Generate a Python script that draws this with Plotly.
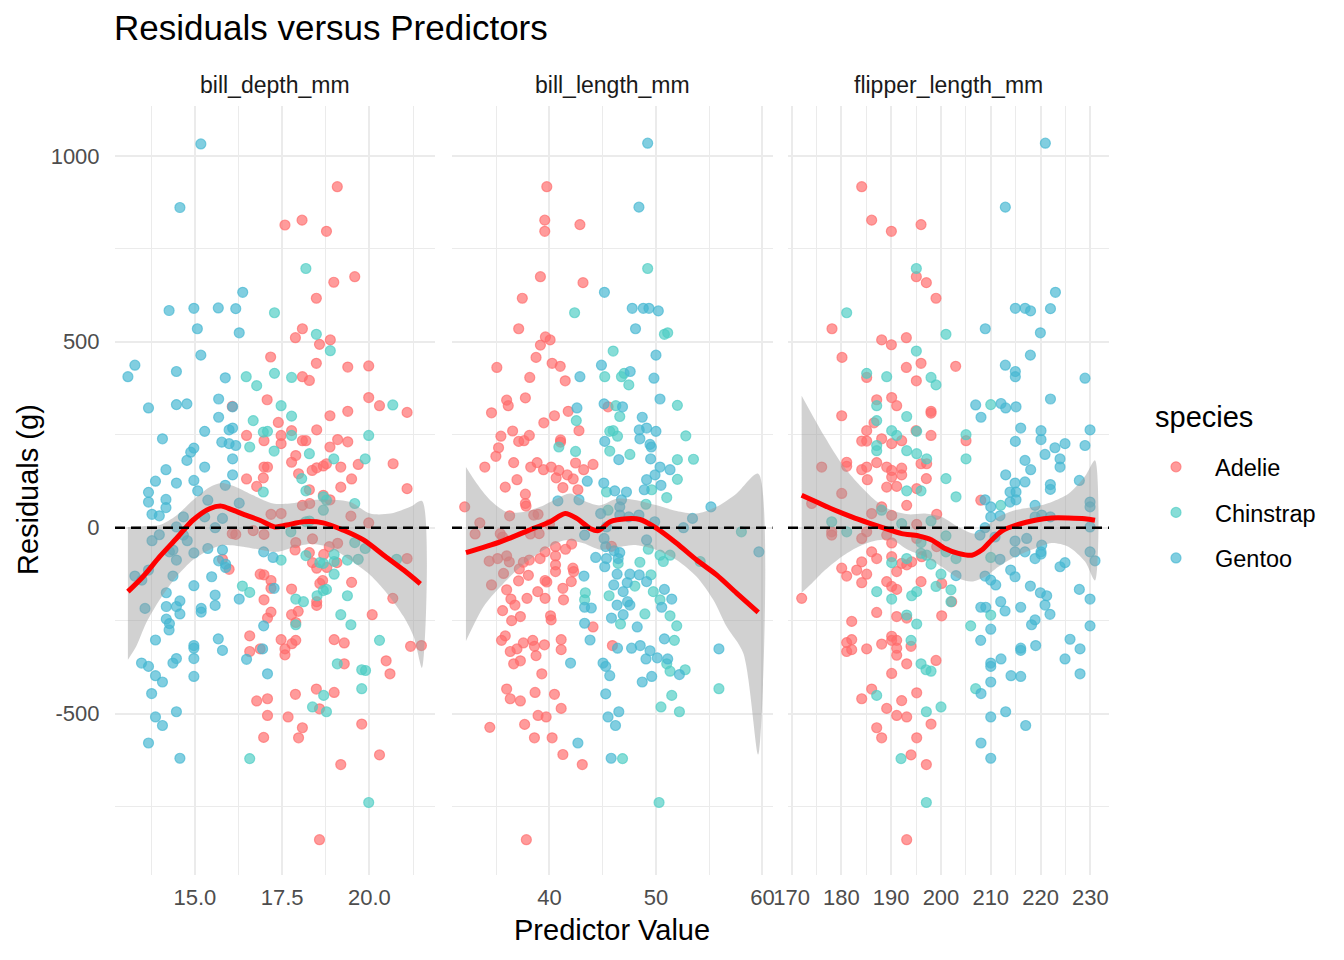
import plotly.graph_objects as go

# residuals (g) against each predictor, (x, residual) pairs
DEPTH_ADELIE = [
    (19.08, 917), (17.58, 814), (18.07, 827), (18.77, 797), (19.58, 675), (18.98, 660), (18.48, 617),
    (18.08, 535), (17.88, 511), (18.57, 493), (18.88, 505), (17.17, 459), (18.48, 442), (19.38, 432),
    (19.98, 435), (18.08, 406), (18.28, 396), (17.07, 344), (16.07, 326), (17.39, 283), (16.48, 248),
    (16.98, 234), (17.47, 248), (17.47, 226), (17.77, 261), (18.08, 234), (18.18, 234), (18.49, 263),
    (18.87, 301), (19.38, 313), (19.98, 350), (20.29, 328), (21.08, 310), (19.09, 237), (19.38, 231),
    (18.87, 217), (17.89, 194), (17.77, 176), (16.98, 163), (17.08, 163), (17.97, 145), (18.36, 154),
    (18.49, 161), (18.68, 166), (18.77, 172), (19.18, 163), (19.68, 170), (20.68, 172), (16.48, 131),
    (16.96, 134), (16.77, 111), (19.49, 131), (19.18, 109), (18.28, 102), (18.68, 87), (18.87, 75),
    (21.08, 105), (18.08, 60), (18.29, 65), (17.18, 36), (17.47, 38), (19.47, 31), (19.98, 13),
    (16.17, -18), (16.07, -16), (16.67, -8), (16.98, -18), (17.89, -40), (18.37, -30), (19.09, -42),
    (18.85, -51), (17.87, -60), (18.28, -67), (18.69, -72), (18.37, -94), (18.49, -109), (18.78, -107),
    (19.07, -94), (18.66, -142), (18.58, -150), (19.49, -147), (21.08, -83), (20.67, -190), (16.87, -125),
    (16.98, -127), (17.18, -142), (17.18, -163), (17.77, -165), (16.98, -194), (17.18, -227), (17.08, -243),
    (17.77, -234), (17.96, -225), (17.89, -255), (18.49, -199), (18.49, -209), (20.08, -234), (15.79, -85),
    (15.98, -112), (16.57, -291), (16.57, -333), (16.87, -326), (17.47, -301), (17.58, -326), (17.58, -342),
    (17.78, -312), (17.89, -303), (18.99, -301), (19.28, -310), (19.28, -366), (21.18, -319), (21.49, -317),
    (20.48, -358), (20.59, -393), (18.48, -434), (18.99, -443), (17.88, -448), (16.77, -466), (17.08, -460),
    (17.08, -505), (17.67, -509), (18.57, -487), (18.08, -538), (17.97, -565), (16.97, -564), (19.78, -528),
    (20.29, -611), (19.18, -637), (18.57, -839),
]
DEPTH_CHINSTRAP = [
    (18.18, 697), (17.28, 578), (18.48, 520), (18.88, 476), (16.47, 406), (17.28, 415), (17.77, 404),
    (16.77, 382), (17.47, 328), (17.77, 300), (16.67, 288), (16.96, 257), (17.08, 259), (17.77, 248),
    (17.27, 206), (16.57, 217), (18.28, 199), (18.98, 185), (19.88, 185), (19.98, 248), (20.67, 330),
    (18.06, 132), (16.96, 96), (18.18, 99), (18.68, 83), (18.77, 74), (19.58, 65), (18.68, 47),
    (18.28, 18), (17.75, -11), (18.18, 16), (19.58, -40), (19.88, -56), (18.99, -72), (18.18, -75),
    (18.58, -94), (18.68, -96), (18.99, -91), (18.99, -125), (18.68, -169), (18.77, -166), (19.37, -87),
    (19.68, -85), (20.78, -85), (16.36, -157), (16.57, -174), (17.89, -192), (18.11, -199), (19.37, -183),
    (19.18, -234), (19.47, -261), (17.89, -261), (17.47, -87), (18.50, -183), (20.29, -303), (19.08, -366),
    (19.78, -382), (19.89, -384), (19.78, -433), (18.69, -451), (18.37, -482), (18.77, -495), (16.57, -621),
    (19.98, -739),
]
DEPTH_GENTOO = [
    (15.17, 1032), (14.57, 861), (16.37, 633), (14.26, 584), (14.97, 590), (15.67, 591), (16.17, 589),
    (15.07, 535), (16.27, 524), (15.17, 464), (13.28, 437), (14.47, 420), (13.08, 406), (15.87, 403),
    (13.67, 322), (14.47, 331), (14.77, 333), (15.68, 346), (16.08, 325), (15.68, 297), (15.28, 259),
    (15.98, 263), (16.08, 268), (14.07, 239), (15.77, 230), (15.98, 226), (16.17, 221), (14.97, 214),
    (14.88, 203), (14.77, 181), (16.08, 185), (15.28, 163), (14.17, 156), (16.08, 142), (13.87, 125),
    (14.47, 120), (14.97, 127), (15.87, 114), (13.67, 95), (15.08, 99), (13.67, 69), (14.17, 76),
    (14.17, 54), (13.77, 36), (13.98, 32), (15.37, 74), (16.27, 66), (14.67, 29), (15.28, 29),
    (15.79, 25), (14.47, 2), (15.58, 0), (13.98, -19), (13.77, -35), (14.67, -20), (14.78, -35),
    (14.27, -65), (14.37, -60), (14.47, -87), (14.97, -68), (15.37, -56), (15.79, -60), (15.68, -89),
    (15.88, -98), (15.88, -107), (13.67, -114), (13.48, -141), (13.28, -130), (14.37, -130), (14.97, -156),
    (15.48, -132), (14.18, -175), (15.58, -181), (16.27, -192), (14.57, -197), (14.47, -212), (14.18, -212),
    (14.57, -232), (15.18, -217), (15.18, -227), (15.58, -209), (13.57, -217), (14.18, -246), (14.27, -258),
    (16.97, -65), (17.24, -80), (17.27, -163), (16.97, -264), (14.26, -275), (13.87, -302), (14.97, -317),
    (14.97, -324), (15.67, -299), (15.79, -330), (14.97, -352), (14.97, -400), (13.47, -364), (13.67, -373),
    (13.87, -398), (14.07, -415), (14.37, -364), (14.47, -352), (13.76, -446), (14.47, -495), (13.87, -509),
    (14.07, -532), (13.67, -579), (14.57, -620), (16.48, -354), (16.94, -326), (17.08, -393),
]

LENGTH_ADELIE = [
    (39.75, 917), (39.56, 827), (39.56, 797), (42.86, 815), (39.15, 675), (43.15, 659), (37.45, 617),
    (37.11, 535), (39.62, 513), (40.06, 505), (39.15, 491), (38.74, 458), (40.25, 442), (41.01, 434),
    (35.06, 431), (38.15, 404), (41.48, 395), (35.98, 343), (37.74, 349), (36.13, 328), (34.56, 309),
    (40.47, 301), (41.76, 313), (39.47, 282), (42.77, 261), (36.54, 260), (35.44, 246), (38.11, 248),
    (37.11, 232), (37.61, 234), (41.04, 236), (41.04, 230), (35.22, 215), (34.97, 192), (33.93, 163),
    (36.64, 175), (38.24, 163), (38.84, 175), (39.44, 156), (40.16, 163), (40.88, 154), (41.67, 142),
    (42.23, 131), (40.63, 134), (42.45, 174), (43.21, 156), (44.09, 170), (36.95, 129), (35.85, 109),
    (41.26, 108), (42.67, 102), (37.74, 90), (37.74, 65), (37.80, 58), (32.04, 56), (36.26, 32),
    (38.52, 34), (38.93, 36), (33.46, 13), (40.00, 9), (33.02, -17), (35.38, -16), (35.60, -25),
    (38.21, -17), (39.03, -16), (40.57, -51), (41.51, -58), (42.08, -44), (39.59, -65), (40.57, -76),
    (34.34, -90), (35.13, -83), (35.98, -76), (36.23, -92), (37.55, -93), (38.11, -87), (39.12, -83),
    (40.57, -100), (40.57, -118), (42.20, -109), (42.27, -118), (35.69, -123), (37.17, -111), (38.02, -128),
    (39.59, -142), (39.75, -146), (42.05, -145), (34.56, -154), (37.10, -143), (35.98, -167), (36.38, -192),
    (36.76, -208), (37.89, -190), (38.90, -172), (39.59, -190), (41.32, -194), (41.26, -163), (35.60, -223),
    (36.45, -250), (37.27, -239), (40.10, -237), (40.16, -248), (45.82, -50), (44.09, -267), (45.50, 325),
    (35.85, -291), (35.50, -303), (36.32, -333), (36.95, -326), (37.55, -310), (38.43, -303), (38.59, -319),
    (39.53, -315), (38.74, -344), (36.64, -366), (37.27, -358), (41.10, -301), (41.10, -328), (39.28, -393),
    (35.98, -434), (36.32, -460), (37.27, -466), (38.65, -443), (40.47, -448), (41.10, -486), (38.93, -505),
    (39.69, -509), (34.40, -537), (37.67, -529), (38.59, -565), (40.25, -565), (41.26, -610), (43.08, -637),
    (37.83, -839), (45.91, -317),
]
LENGTH_CHINSTRAP = [
    (49.22, 697), (42.36, 578), (50.79, 520), (51.10, 524), (45.98, 475), (45.19, 406), (46.76, 406),
    (47.01, 415), (47.45, 384), (42.52, 288), (46.23, 328), (46.60, 299), (45.66, 259), (45.98, 261),
    (46.39, 246), (40.88, 217), (42.45, 205), (45.66, 206), (47.55, 197), (52.01, 329), (52.80, 247),
    (52.01, 183), (53.52, 184), (52.01, 130), (45.35, 96), (49.60, 102), (51.01, 81), (49.06, 63),
    (45.50, 47), (58.02, -11), (49.28, -58), (50.38, -74), (50.69, -91), (51.32, -74), (48.49, -93),
    (46.45, -96), (49.53, -127), (54.15, -91), (48.02, -157), (45.60, -183), (49.75, -172), (50.38, -194),
    (48.96, -232), (51.32, -237), (43.37, -175), (43.30, -194), (46.67, -259), (51.95, -264), (51.73, -303),
    (51.01, -366), (51.32, -386), (52.74, -382), (51.48, -451), (50.47, -482), (52.20, -495), (46.86, -621),
    (55.91, -433), (50.29, -739),
]
LENGTH_GENTOO = [
    (49.22, 1034), (48.40, 862), (45.16, 633), (47.77, 590), (48.81, 590), (49.34, 590), (50.22, 583),
    (48.08, 535), (50.00, 464), (44.88, 437), (47.58, 420), (42.86, 406), (49.81, 402), (42.58, 322),
    (45.13, 333), (46.86, 325), (50.38, 346), (48.71, 297), (48.43, 263), (49.12, 268), (50.00, 259),
    (48.49, 239), (49.44, 224), (49.56, 217), (45.19, 232), (46.51, 183), (49.50, 185), (50.38, 163),
    (51.32, 156), (49.91, 142), (49.12, 129), (48.90, 102), (50.47, 114), (43.55, 125), (45.10, 120),
    (47.23, 96), (46.13, 99), (46.76, 75), (46.60, 56), (42.77, 75), (40.79, 72), (44.81, 38),
    (46.60, 34), (47.45, 29), (48.40, 34), (49.88, 16), (52.58, 0), (53.43, 25), (55.16, 56),
    (45.35, 2), (43.30, -20), (45.13, -29), (45.28, -51), (49.12, -33), (46.07, -62), (46.60, -67),
    (44.34, -80), (45.35, -83), (46.45, -83), (45.19, -105), (43.24, -130), (46.35, -125), (47.55, -125),
    (48.43, -127), (46.04, -154), (47.30, -148), (46.92, -172), (49.12, -145), (50.79, -166), (51.48, -192),
    (46.35, -208), (47.55, -208), (47.33, -199), (43.30, -214), (43.93, -216), (46.92, -234), (45.82, -243),
    (50.54, -214), (59.66, -65), (43.30, -257), (48.24, -267), (43.81, -302), (41.98, -364), (45.03, -364),
    (45.28, -373), (45.66, -398), (46.39, -324), (47.71, -324), (48.52, -317), (49.44, -331), (49.06, -353),
    (50.12, -350), (51.10, -353), (50.79, -299), (48.71, -415), (49.60, -400), (52.20, -395), (45.28, -447),
    (46.51, -495), (45.50, -509), (46.20, -532), (42.67, -579), (45.79, -620), (55.91, -326),
]

FLIPPER_ADELIE = [
    (184.07, 917), (186.07, 827), (190.03, 797), (195.99, 815), (195.05, 675), (197.06, 659), (199.00, 617),
    (178.10, 535), (188.08, 505), (190.03, 492), (193.04, 511), (180.11, 458), (193.04, 431), (195.99, 442),
    (202.95, 434), (185.07, 404), (195.05, 395), (187.08, 344), (190.09, 350), (191.10, 328), (198.00, 313),
    (198.00, 308), (180.05, 301), (185.07, 261), (186.54, 282), (184.07, 233), (185.07, 233), (188.08, 239),
    (190.09, 226), (192.10, 234), (194.98, 261), (198.00, 248), (205.03, 234), (181.05, 176), (181.05, 165),
    (184.07, 156), (185.07, 163), (187.08, 175), (189.09, 163), (190.09, 154), (192.10, 160), (190.09, 136),
    (192.10, 142), (195.99, 172), (197.12, 172), (197.06, 132), (185.20, 129), (189.09, 109), (191.10, 111),
    (195.12, 105), (176.03, 163), (180.05, 92), (174.02, 65), (193.11, 60), (208.00, 74), (188.08, 56),
    (186.07, 38), (190.09, 33), (199.14, 36), (178.04, -11), (178.04, -20), (185.07, -11), (189.09, -20),
    (190.09, -41), (184.07, -29), (195.12, 9), (195.12, -29), (186.07, -65), (187.08, -83), (184.07, -92),
    (190.09, -78), (192.10, -96), (194.11, -92), (196.12, -78), (180.05, -109), (181.05, -130), (183.06, -114),
    (185.07, -125), (184.07, -148), (191.10, -118), (193.11, -100), (189.09, -145), (190.09, -158), (191.10, -166),
    (195.99, -145), (200.14, -150), (172.01, -190), (182.06, -252), (187.08, -228), (191.10, -239), (193.11, -243),
    (200.14, -237), (202.15, -199), (199.14, -51), (181.05, -309), (182.06, -301), (181.05, -333), (182.06, -328),
    (185.07, -326), (188.08, -313), (190.09, -292), (190.09, -303), (191.10, -303), (191.10, -324), (191.10, -343),
    (193.98, -319), (193.11, -366), (199.00, -357), (190.09, -392), (186.07, -434), (184.07, -460), (189.09, -486),
    (191.10, -505), (192.10, -465), (193.11, -509), (195.12, -444), (198.00, -528), (187.08, -538), (188.08, -565),
    (195.12, -565), (193.98, -611), (197.06, -637), (193.11, -839),
]
FLIPPER_CHINSTRAP = [
    (195.05, 697), (181.05, 578), (201.00, 520), (195.05, 475), (185.07, 415), (189.09, 406), (198.00, 404),
    (199.00, 384), (187.08, 328), (187.08, 288), (193.11, 299), (190.09, 261), (191.10, 248), (195.12, 259),
    (205.03, 250), (187.08, 221), (187.08, 207), (193.11, 207), (195.12, 199), (197.12, 185), (205.03, 185),
    (201.00, 132), (203.02, 83), (193.11, 99), (195.99, 99), (210.00, 331), (212.00, 60), (188.08, 47),
    (178.04, 16), (181.05, -11), (192.10, 11), (198.00, 18), (201.00, -22), (195.99, -40), (201.00, -65),
    (203.02, -83), (195.99, -69), (197.12, -74), (193.11, -83), (190.09, -94), (198.00, -98), (210.00, -80),
    (200.00, -125), (199.00, -158), (202.00, -167), (187.08, -172), (190.09, -192), (194.11, -183), (195.12, -172),
    (202.00, -199), (193.11, -235), (210.00, -235), (195.12, -259), (205.97, -264), (193.98, -303), (195.99, -366),
    (196.99, -382), (198.00, -386), (187.08, -451), (206.97, -433), (197.06, -495), (200.00, -482), (191.97, -621),
    (197.06, -739),
]
FLIPPER_GENTOO = [
    (220.97, 1034), (212.93, 862), (223.00, 633), (214.94, 590), (216.90, 590), (218.00, 583), (222.00, 589),
    (208.90, 535), (219.97, 524), (217.96, 464), (212.93, 437), (214.94, 420), (214.94, 406), (228.94, 402),
    (206.97, 330), (212.06, 334), (213.00, 322), (215.08, 325), (208.04, 297), (222.00, 346), (216.02, 268),
    (220.10, 261), (220.10, 237), (214.94, 232), (229.95, 263), (224.92, 226), (222.90, 215), (220.90, 197),
    (228.94, 221), (216.88, 181), (218.02, 156), (223.92, 185), (223.92, 163), (213.00, 142), (216.88, 123),
    (214.88, 120), (221.98, 116), (221.98, 103), (227.80, 127), (213.87, 96), (215.08, 96), (215.08, 75),
    (208.85, 75), (213.87, 69), (210.00, 56), (211.86, 32), (210.00, 29), (218.90, 60), (218.90, 29),
    (229.95, 69), (229.95, 56), (220.24, 34), (221.98, 29), (229.95, 2), (208.85, 0), (207.84, -20),
    (210.86, -25), (214.88, -36), (217.22, -29), (220.24, -47), (214.88, -65), (216.88, -65), (220.10, -65),
    (218.90, -83), (220.10, -71), (229.95, -65), (230.95, -89), (211.86, -85), (223.92, -105), (224.92, -94),
    (203.02, -129), (208.85, -130), (210.00, -141), (211.00, -154), (214.00, -114), (214.88, -132), (217.96, -157),
    (219.97, -175), (221.24, -183), (227.80, -166), (229.95, -192), (212.00, -199), (208.00, -214), (209.00, -214),
    (212.87, -224), (216.02, -214), (220.90, -208), (221.90, -233), (218.20, -261), (218.90, -248), (229.95, -264),
    (210.00, -273), (207.98, -303), (210.00, -364), (210.00, -373), (212.06, -353), (216.02, -324), (216.02, -330),
    (219.03, -317), (225.93, -300), (227.94, -326), (224.92, -353), (214.07, -398), (216.02, -400), (210.00, -415),
    (208.04, -446), (227.94, -393), (213.00, -495), (210.00, -509), (217.02, -532), (208.04, -579), (210.00, -620),
]

# loess fit and its grey band
DEPTH_FIT_X = [13.08, 13.51, 13.99, 14.47, 14.94, 15.42, 15.76, 16.09, 16.48, 16.86, 17.29, 17.63, 18.11, 18.68,
               19.26, 19.83, 20.41, 20.98, 21.46]
DEPTH_FIT_Y = [-172, -132, -78, -29, 20, 51, 58, 47, 33, 20, 2, 7, 16, 13, -7, -33, -74, -114, -151]
DEPTH_HI_X = [13.08, 13.51, 13.99, 14.47, 14.94, 15.42, 15.76, 16.19, 16.67, 17.24, 17.72, 18.30, 18.87, 19.45,
              20.02, 20.60, 21.17, 21.51]
DEPTH_HI_Y = [2, 4, 7, 33, 74, 109, 120, 109, 87, 65, 65, 74, 75, 69, 38, 38, 56, 72]
DEPTH_LO_X = [13.08, 13.32, 13.60, 13.99, 14.47, 14.94, 15.42, 15.80, 16.38, 16.86, 17.34, 17.82, 18.30, 18.87,
              19.45, 20.02, 20.50, 20.98, 21.27, 21.51]
DEPTH_LO_Y = [-355, -319, -257, -194, -132, -87, -59, -47, -51, -59, -65, -53, -44, -53, -87, -127, -176, -239,
              -293, -377]

LENGTH_FIT_X = [32.16, 35.38, 38.50, 40.07, 41.47, 42.56, 43.82, 44.60, 45.69, 47.25, 48.50, 50.07, 51.94, 53.82,
                55.69, 57.57, 59.60]
LENGTH_FIT_Y = [-67, -38, -2, 16, 38, 25, -2, -8, 16, 24, 22, -2, -42, -87, -127, -176, -228]
LENGTH_HI_X = [32.16, 33.19, 34.44, 36.00, 37.56, 39.13, 40.69, 41.94, 43.50, 44.75, 46.32, 48.19, 50.07, 51.94,
               53.82, 55.69, 57.57, 59.60]
LENGTH_HI_Y = [163, 118, 74, 42, 42, 56, 78, 92, 69, 60, 78, 74, 60, 45, 38, 56, 92, 145]
LENGTH_LO_X = [32.16, 33.82, 35.38, 36.94, 38.50, 40.07, 41.47, 43.19, 44.75, 46.32, 48.19, 50.07, 51.94, 53.82,
               55.38, 56.63, 58.19, 59.60]
LENGTH_LO_Y = [-305, -212, -159, -114, -78, -50, -34, -42, -59, -53, -47, -60, -87, -132, -194, -266, -337, -610]

FLIPPER_FIT_X = [172.0, 175.36, 178.71, 182.06, 185.40, 188.75, 192.10, 195.45, 198.13, 200.81, 203.49, 206.17,
                 208.18, 210.19, 212.20, 215.55, 218.90, 222.24, 225.60, 228.94, 230.95]
FLIPPER_FIT_Y = [87, 67, 47, 29, 13, -2, -16, -22, -33, -56, -69, -74, -60, -33, -9, 9, 20, 26, 26, 24, 20]
FLIPPER_HI_X = [172.0, 174.02, 176.70, 180.05, 183.40, 186.75, 190.09, 193.44, 196.79, 200.14, 203.49, 206.84,
                208.85, 211.53, 214.88, 218.90, 222.24, 225.60, 228.94, 230.95]
FLIPPER_HI_Y = [355, 306, 243, 172, 118, 74, 47, 36, 38, 29, 2, -16, 2, 29, 47, 56, 69, 91, 138, 181]
FLIPPER_LO_X = [172.0, 174.02, 176.70, 180.05, 183.40, 186.75, 190.09, 193.44, 196.79, 200.14, 203.49, 206.17,
                208.85, 211.53, 214.88, 218.90, 222.24, 225.60, 228.94, 230.95]
FLIPPER_LO_Y = [-175, -150, -114, -78, -51, -35, -33, -60, -78, -105, -136, -145, -132, -105, -78, -56, -41, -51,
                -91, -142]

PANELS = ['bill_depth_mm', 'bill_length_mm', 'flipper_length_mm']
SPECIES = ['Adelie', 'Chinstrap', 'Gentoo']
COLORS = {'Adelie': (255, 107, 107), 'Chinstrap': (78, 205, 196), 'Gentoo': (69, 183, 209)}

POINTS = [
    {'Adelie': DEPTH_ADELIE, 'Chinstrap': DEPTH_CHINSTRAP, 'Gentoo': DEPTH_GENTOO},
    {'Adelie': LENGTH_ADELIE, 'Chinstrap': LENGTH_CHINSTRAP, 'Gentoo': LENGTH_GENTOO},
    {'Adelie': FLIPPER_ADELIE, 'Chinstrap': FLIPPER_CHINSTRAP, 'Gentoo': FLIPPER_GENTOO},
]
SMOOTHS = [
    (DEPTH_FIT_X, DEPTH_FIT_Y, DEPTH_HI_X, DEPTH_HI_Y, DEPTH_LO_X, DEPTH_LO_Y),
    (LENGTH_FIT_X, LENGTH_FIT_Y, LENGTH_HI_X, LENGTH_HI_Y, LENGTH_LO_X, LENGTH_LO_Y),
    (FLIPPER_FIT_X, FLIPPER_FIT_Y, FLIPPER_HI_X, FLIPPER_HI_Y, FLIPPER_LO_X, FLIPPER_LO_Y),
]

X_RANGES = [(12.71, 21.88), (30.85, 60.94), (169.26, 233.76)]
X_TICKS = [[15, 17.5, 20], [40, 50, 60], [170, 180, 190, 200, 210, 220, 230]]
X_TICKTEXT = [['15.0', '17.5', '20.0'], ['40', '50', '60'], ['170', '180', '190', '200', '210', '220', '230']]
X_MINOR = [[13.75, 16.25, 18.75, 21.25], [35, 45, 55], [175, 185, 195, 205, 215, 225]]
Y_RANGE = (-934, 1134)

# target geometry in screen pixels; the page body adds an 8px margin
W, H = 1344, 960
PAGE = 8
L, R, T, B = 115 - PAGE, 1109 - PAGE, 105.8 - PAGE, 875.1 - PAGE
PANEL_PX = [(115, 435), (452, 772.5), (788, 1109)]

FONT = 'Liberation Sans, Arial, Helvetica, sans-serif'
GRID = '#EBEBEB'


def px_x(px):
    return (px - PAGE - L) / (R - L)


def px_y(py):
    return (B - (py - PAGE)) / (B - T)


def rgba(rgb, a):
    return 'rgba({},{},{},{})'.format(rgb[0], rgb[1], rgb[2], a)


fig = go.Figure()

for i in range(3):
    suffix = '' if i == 0 else str(i + 1)
    xref, yref = 'x' + suffix, 'y' + suffix

    for sp in SPECIES:
        pts = POINTS[i][sp]
        fig.add_trace(go.Scatter(
            x=[p[0] for p in pts], y=[p[1] for p in pts],
            mode='markers', name=sp, legendgroup=sp, showlegend=(i == 0),
            marker=dict(size=10, color=rgba(COLORS[sp], 0.68),
                        line=dict(width=1.2, color=rgba(COLORS[sp], 0.68))),
            xaxis=xref, yaxis=yref, hoverinfo='skip'))

    fit_x, fit_y, hi_x, hi_y, lo_x, lo_y = SMOOTHS[i]
    fig.add_trace(go.Scatter(
        x=hi_x + lo_x[::-1], y=hi_y + lo_y[::-1],
        fill='toself', fillcolor='rgba(153,153,153,0.45)',
        line=dict(width=0, shape='spline', smoothing=0.8),
        mode='lines', showlegend=False, xaxis=xref, yaxis=yref, hoverinfo='skip'))

    fig.add_shape(type='line', xref=xref + ' domain', yref=yref, x0=0, x1=1, y0=0, y1=0,
                  line=dict(color='black', width=2.4, dash='10px,6px'), layer='above')

    fig.add_trace(go.Scatter(
        x=fit_x, y=fit_y, mode='lines',
        line=dict(color='#FF0000', width=5, shape='spline', smoothing=0.8),
        showlegend=False, xaxis=xref, yaxis=yref, hoverinfo='skip'))

    x0, x1 = PANEL_PX[i]
    fig.layout['xaxis' + suffix] = dict(
        domain=[max(0, px_x(x0)), min(1, px_x(x1))], range=X_RANGES[i], anchor=yref,
        automargin=False,
        tickmode='array', tickvals=X_TICKS[i], ticktext=X_TICKTEXT[i],
        ticks='outside', ticklen=3, tickcolor='rgba(0,0,0,0)',
        tickfont=dict(size=22, color='#4D4D4D', family=FONT),
        showgrid=True, gridcolor=GRID, gridwidth=2, zeroline=False, showline=False,
        minor=dict(tickmode='array', tickvals=X_MINOR[i], showgrid=True, gridcolor=GRID, gridwidth=1))
    fig.layout['yaxis' + suffix] = dict(
        domain=[0, 1], range=Y_RANGE, anchor=xref, automargin=False,
        tickmode='array', tickvals=[-500, 0, 500, 1000], ticktext=['-500', '0', '500', '1000'],
        showticklabels=(i == 0), ticks='outside' if i == 0 else '', ticklen=10,
        tickcolor='rgba(0,0,0,0)',
        tickfont=dict(size=22, color='#4D4D4D', family=FONT),
        showgrid=True, gridcolor=GRID, gridwidth=2, zeroline=False, showline=False,
        minor=dict(tickmode='array', tickvals=[-750, -250, 250, 750], showgrid=True,
                   gridcolor=GRID, gridwidth=1))

    fig.add_annotation(text=PANELS[i], xref='paper', yref='paper',
                       x=px_x((x0 + x1) / 2), y=px_y(85), xanchor='center', yanchor='middle',
                       showarrow=False, font=dict(size=23, color='#1A1A1A', family=FONT))

fig.add_annotation(text='Predictor Value', xref='paper', yref='paper', x=px_x(612), y=px_y(930),
                   xanchor='center', yanchor='middle',
                   showarrow=False, font=dict(size=29, color='black', family=FONT))
fig.add_annotation(text='Residuals (g)', xref='paper', yref='paper', x=px_x(28), y=px_y(490),
                   xanchor='center', yanchor='middle', textangle=-90,
                   showarrow=False, font=dict(size=29, color='black', family=FONT))
fig.add_annotation(text='species', xref='paper', yref='paper', x=px_x(1153), y=px_y(417),
                   xanchor='left', yanchor='middle',
                   showarrow=False, font=dict(size=29, color='black', family=FONT))

fig.update_layout(
    width=W, height=H,
    margin=dict(l=L, r=W - R, t=T, b=H - B, autoexpand=False),
    paper_bgcolor='white', plot_bgcolor='white',
    font=dict(family=FONT, color='black'),
    title=dict(text='Residuals versus Predictors', x=(115 - PAGE - 1) / W, xanchor='left',
               y=1 - (28 - PAGE) / H, yanchor='middle', pad=dict(l=0, t=0, b=0, r=0),
               font=dict(size=35, color='black', family=FONT)),
    legend=dict(x=px_x(1137), xanchor='left', y=px_y(445), yanchor='top',
                font=dict(size=23.5, color='black'), traceorder='grouped', tracegroupgap=12,
                itemwidth=68, bgcolor='rgba(0,0,0,0)'),
)

fig.write_html('out.html')
